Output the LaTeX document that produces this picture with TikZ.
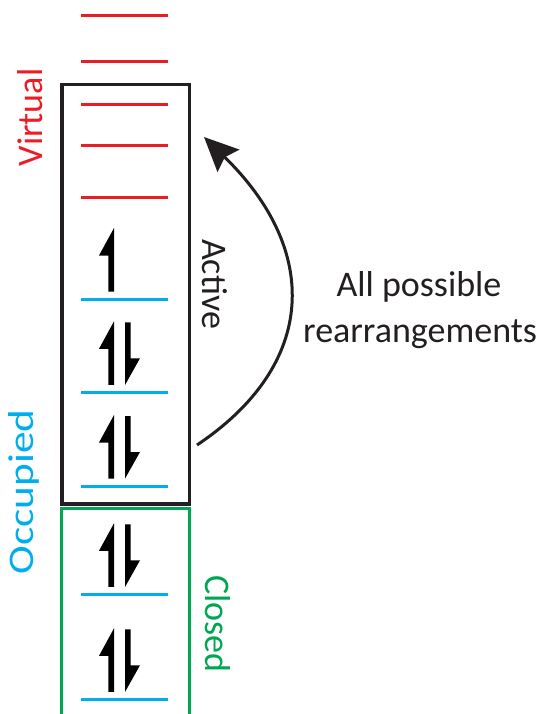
\documentclass[tikz,border=0pt]{standalone}
\usepackage{fontspec}
\setmainfont{Carlito}
\usetikzlibrary{arrows.meta}

\definecolor{virtred}{HTML}{ED1C24}
\definecolor{occblue}{HTML}{00AEEF}
\definecolor{closedgreen}{HTML}{00A651}
\definecolor{ink}{HTML}{231F20}

\tikzset{
  orbital/.style={line width=3pt},
  spaceframe/.style={line width=3.5pt, ink},
  lbl/.style={inner sep=0pt, font=\fontsize{36}{42}\selectfont},
  spin/.style={fill=black},
}

% half-headed spin arrows standing on an orbital level at height #2
\newcommand\spinup[2][108.3]{%
  \fill[spin] (#1,#2-7.5) -- (#1+5.7,#2-7.5) -- (#1+5.7,#2-71)
    -- (#1-9.3,#2-43.5) -- (#1,#2-43.5) -- cycle;}
\newcommand\spindown[2][125]{%
  \fill[spin] (#1,#2-70) -- (#1+5.7,#2-70) -- (#1+5.7,#2-34)
    -- (#1+15,#2-34) -- (#1,#2-7.3) -- cycle;}

\begin{document}
\begin{tikzpicture}[x=1pt,y=-1pt]
  \useasboundingbox (0,0) rectangle (547,714);

  % virtual orbitals
  \foreach \yy in {16,62,105,146,197}
    \draw[orbital, virtred] (81.3,\yy) -- (168.3,\yy);

  % occupied orbitals
  \foreach \yy in {299,392.3,486,594.3,699.3}
    \draw[orbital, occblue] (81.3,\yy) -- (168.3,\yy);

  % electrons
  \spinup{299}
  \foreach \yy in {392.3,486,594.3,699.3}{
    \spinup{\yy}
    \spindown{\yy}
  }

  % active space and closed shells
  \draw[spaceframe] (62,84.5) rectangle (189.5,504);
  \draw[line width=3pt, closedgreen] (61,720) -- (61,508.5) -- (189.5,508.5) -- (189.5,720);

  % labels
  \node[lbl, virtred, rotate=90] (virtual) at (30.5,117.5) {Virtual};
  \node[lbl, occblue, rotate=90, xscale=1.2] (occupied) at (24,492) {Occupied};
  \node[lbl, ink, rotate=-90] (active) at (215,284) {Active};
  \node[lbl, closedgreen, rotate=-90] (closed) at (218,624) {Closed};
  \node[lbl, ink, anchor=base] (all) at (419,296.7) {All possible};
  \node[lbl, ink, anchor=base] (rearr) at (420,342.5) {rearrangements};

  % excitation arrow
  \coordinate (arrowstart) at (197,445);
  \coordinate (arrowend) at (204,137);
  \draw[line width=3pt, ink, -{Stealth[length=34pt,width=31pt,inset=5pt]}]
    (arrowstart) .. controls (318,364) and (320,250) .. (arrowend);
\end{tikzpicture}
\end{document}
